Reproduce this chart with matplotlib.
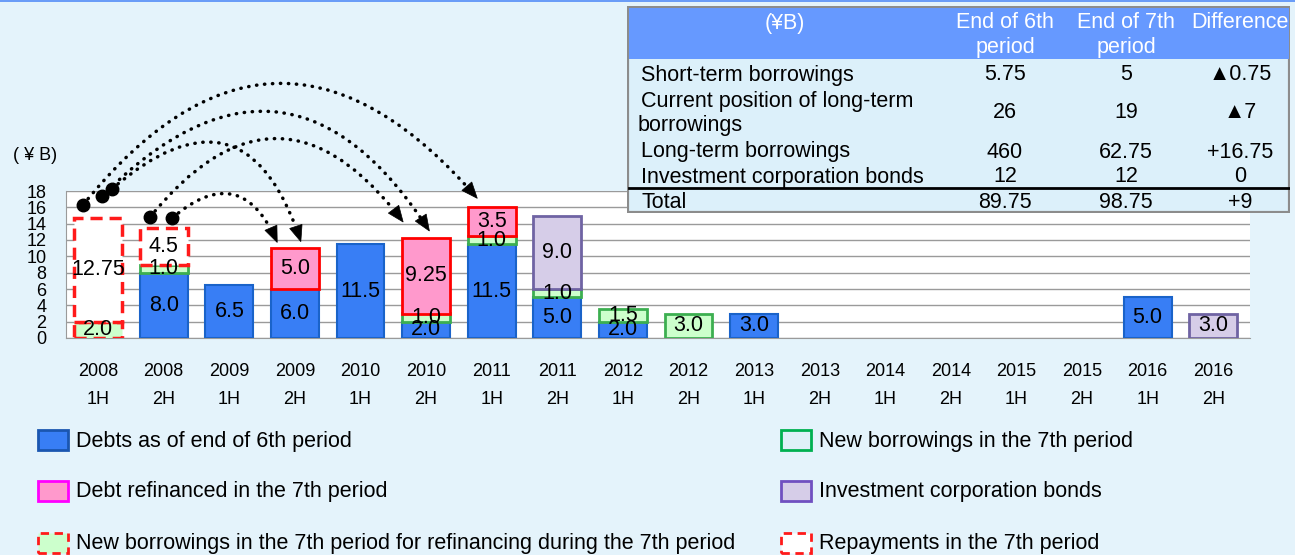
import matplotlib
matplotlib.use("Agg")
import matplotlib.pyplot as plt
import numpy as np
from matplotlib.patches import Polygon, Rectangle
from matplotlib.transforms import IdentityTransform, blended_transform_factory

plt.rcParams["font.family"] = ["Liberation Sans", "DejaVu Sans"]

# ── data ──────────────────────────────────────────────────────────────────────
years = ["2008", "2008", "2009", "2009", "2010", "2010", "2011", "2011", "2012",
         "2012", "2013", "2013", "2014", "2014", "2015", "2015", "2016", "2016"]
halves = ["1H", "2H"] * 9

debts_6th      = [0, 8.0, 6.5, 6.0, 11.5, 2.0, 11.5, 5.0, 2.0, 0, 3.0, 0, 0, 0, 0, 0, 5.0, 0]
new_refinance  = [2.0, 0, 0, 0, 0, 0, 0, 0, 0, 0, 0, 0, 0, 0, 0, 0, 0, 0]
new_borrowings = [0, 1.0, 0, 0, 0, 1.0, 1.0, 1.0, 1.5, 3.0, 0, 0, 0, 0, 0, 0, 0, 0]
refinanced     = [0, 0, 0, 5.0, 0, 9.25, 3.5, 0, 0, 0, 0, 0, 0, 0, 0, 0, 0, 0]
bonds          = [0, 0, 0, 0, 0, 0, 0, 9.0, 0, 0, 0, 0, 0, 0, 0, 0, 0, 3.0]
repayments     = [12.75, 4.5, 0, 0, 0, 0, 0, 0, 0, 0, 0, 0, 0, 0, 0, 0, 0, 0]

table_header = ["(¥B)", "End of 6th\nperiod", "End of 7th\nperiod", "Difference"]
table_rows   = ["Short-term borrowings", "Current position of long-term\nborrowings",
                "Long-term borrowings", "Investment corporation bonds"]
end_6th      = ["5.75", "26", "460", "12"]
end_7th      = ["5", "19", "62.75", "12"]
difference   = ["▲0.75", "▲7", "+16.75", "0"]
total_row    = ["Total", "89.75", "98.75", "+9"]

# refinancing arrows: (start x, start y, tip x, tip y, curvature)
arrows = [
    (-0.23, 16.3, 5.78, 17.1, -0.60),
    (0.06, 17.4, 5.05, 13.1, -0.62),
    (0.21, 18.25, 3.09, 11.8, -0.75),
    (0.79, 14.8, 4.65, 14.2, -0.64),
    (1.13, 14.7, 2.73, 11.7, -0.68),
]

# ── styles ───────────────────────────────────────────────────────────────────
BG = "#e4f3fb"
DASH = (0, (3.5, 2))
series = [
    (debts_6th,      dict(color="#387ef5", edgecolor="#1a63c9", linewidth=1.5)),
    (new_refinance,  dict(color="#ccffcc", edgecolor="#ff1a1a", linewidth=2.5, linestyle=DASH)),
    (new_borrowings, dict(color="#ccffcc", edgecolor="#3caf50", linewidth=2)),
    (refinanced,     dict(color="#ff99cc", edgecolor="#ff0000", linewidth=2)),
    (bonds,          dict(color="#d6cde8", edgecolor="#6f63a3", linewidth=2)),
    (repayments,     dict(color="white",   edgecolor="#ff1a1a", linewidth=2.5, linestyle=DASH)),
]

W, H = 1295, 555
def fx(px): return px / W
def fy(py): return 1 - py / H

def fmt(v):
    s = f"{v:.2f}"
    return s[:-1] if s.endswith("0") else s

fig = plt.figure(figsize=(W / 100, H / 100), dpi=100, facecolor=BG)
fig.add_artist(Rectangle((0, fy(2)), 1, 2 / H, transform=fig.transFigure,
                         color="#6a9cf7", lw=0))

ax = fig.add_axes([fx(66), fy(338), fx(1250) - fx(66), fy(191) - fy(338)])
ax.set_facecolor("white")
x = np.arange(len(years))
bottom = np.zeros(len(years))
for values, style in series:
    vals = np.array(values, dtype=float)
    idx = np.nonzero(vals)[0]
    ax.bar(x[idx], vals[idx], bottom=bottom[idx], width=0.73, zorder=3, **style)
    for i in idx:
        ax.text(x[i], bottom[i] + vals[i] / 2, fmt(vals[i]), ha="center", va="center",
                fontsize=15.5, zorder=5)
    bottom += vals

ax.set_xlim(-0.49, 17.56)
ax.set_ylim(0, 18)
ax.set_yticks(range(0, 19, 2))
ax.tick_params(axis="y", length=0, pad=14, labelsize=13)
ax.set_xticks([])
ax.yaxis.grid(True, color="#9a9a9a", linewidth=1)
ax.set_axisbelow(True)
for side in ["top", "right"]:
    ax.spines[side].set_visible(False)
for side in ["left", "bottom"]:
    ax.spines[side].set_color("#9a9a9a")

trans = blended_transform_factory(ax.transData, ax.transAxes)
for i in x:
    ax.text(i, -0.228, years[i], transform=trans, ha="center", va="center", fontsize=13)
    ax.text(i, -0.42, halves[i], transform=trans, ha="center", va="center", fontsize=13)
fig.text(fx(35), fy(155), "( ¥ B)", ha="center", va="center", fontsize=13)

# dotted curved arrows with solid triangular heads
HEAD_LEN, HEAD_W = 16, 13  # pixels
for sx, sy, ex, ey, rad in arrows:
    p0 = ax.transData.transform((sx, sy))
    p2 = ax.transData.transform((ex, ey))
    d = p2 - p0
    ctrl = (p0 + p2) / 2 + rad * np.array([d[1], -d[0]])
    u = (p2 - ctrl) / np.hypot(*(p2 - ctrl))
    n = np.array([-u[1], u[0]])
    base = p2 - HEAD_LEN * u
    ax.annotate("", xy=(ex, ey), xytext=(sx, sy), annotation_clip=False,
                arrowprops=dict(arrowstyle="-", connectionstyle=f"arc3,rad={rad}",
                                color="black", lw=2.5, linestyle=(0, (0.1, 2.2)),
                                capstyle="round", shrinkA=0, shrinkB=HEAD_LEN * 0.72))
    fig.add_artist(Polygon([p2, base + n * HEAD_W / 2, base - n * HEAD_W / 2],
                           closed=True, transform=IdentityTransform(),
                           facecolor="black", edgecolor="black", lw=0.5))
    ax.plot(sx, sy, "o", color="black", ms=9, clip_on=False, zorder=6)

# ── table ────────────────────────────────────────────────────────────────────
tx = fig.add_axes([fx(627), fy(213), fx(1290) - fx(627), fy(6) - fy(213)])
tx.set_xlim(0, 663)
tx.set_ylim(207, 0)
tx.axis("off")
tx.add_patch(Rectangle((0, 0), 663, 207, facecolor="#dcf0fa", edgecolor="#8c8c8c", lw=3))
tx.add_patch(Rectangle((1.5, 1.5), 660, 51, facecolor="#6699ff", lw=0))
col_x = [158, 378, 499, 613]
for cx, head in zip(col_x, table_header):
    for k, line in enumerate(head.split("\n")):
        tx.text(cx, 17 + 25 * k, line, ha="center", va="center", color="white", fontsize=15.5)
row_y = [69, 107, 146, 171]
for ry, label, a, b, d in zip(row_y, table_rows, end_6th, end_7th, difference):
    lines = label.split("\n")
    if len(lines) == 1:
        tx.text(14, ry, label, ha="left", va="center", fontsize=15.5)
    else:
        tx.text(14, ry - 12, lines[0], ha="left", va="center", fontsize=15.5)
        tx.text(11, ry + 13, lines[1], ha="left", va="center", fontsize=15.5)
    for cx, val in zip(col_x[1:], [a, b, d]):
        tx.text(cx, ry, val, ha="center", va="center", fontsize=15.5)
tx.plot([1.5, 661.5], [182, 182], color="black", lw=2)
tx.text(14, 196, total_row[0], ha="left", va="center", fontsize=15.5)
for cx, val in zip(col_x[1:], total_row[1:]):
    tx.text(cx, 196, val, ha="center", va="center", fontsize=15.5)

# ── legend ───────────────────────────────────────────────────────────────────
legend_items = [
    (38, 440, "Debts as of end of 6th period",
     dict(facecolor="#387ef5", edgecolor="#1a56b0", lw=2)),
    (38, 491, "Debt refinanced in the 7th period",
     dict(facecolor="#ff99cc", edgecolor="#ff00ff", lw=2)),
    (38, 543, "New borrowings in the 7th period for refinancing during the 7th period",
     dict(facecolor="#ccffcc", edgecolor="#ff1a1a", lw=2, linestyle=(0, (3, 2)))),
    (781, 440, "New borrowings in the 7th period",
     dict(facecolor="#dff0f8", edgecolor="#00b050", lw=2)),
    (781, 491, "Investment corporation bonds",
     dict(facecolor="#d6cde8", edgecolor="#7050c0", lw=2)),
    (781, 543, "Repayments in the 7th period",
     dict(facecolor="white", edgecolor="#ff1a1a", lw=2, linestyle=(0, (3, 2)))),
]
for lx, ly, label, style in legend_items:
    fig.add_artist(Rectangle((fx(lx), fy(ly + 10)), 30 / W, 20 / H,
                             transform=fig.transFigure, **style))
    fig.text(fx(lx + 38), fy(ly + 1), label, ha="left", va="center", fontsize=15.5)

fig.savefig("out.png", dpi=100, facecolor=BG)
